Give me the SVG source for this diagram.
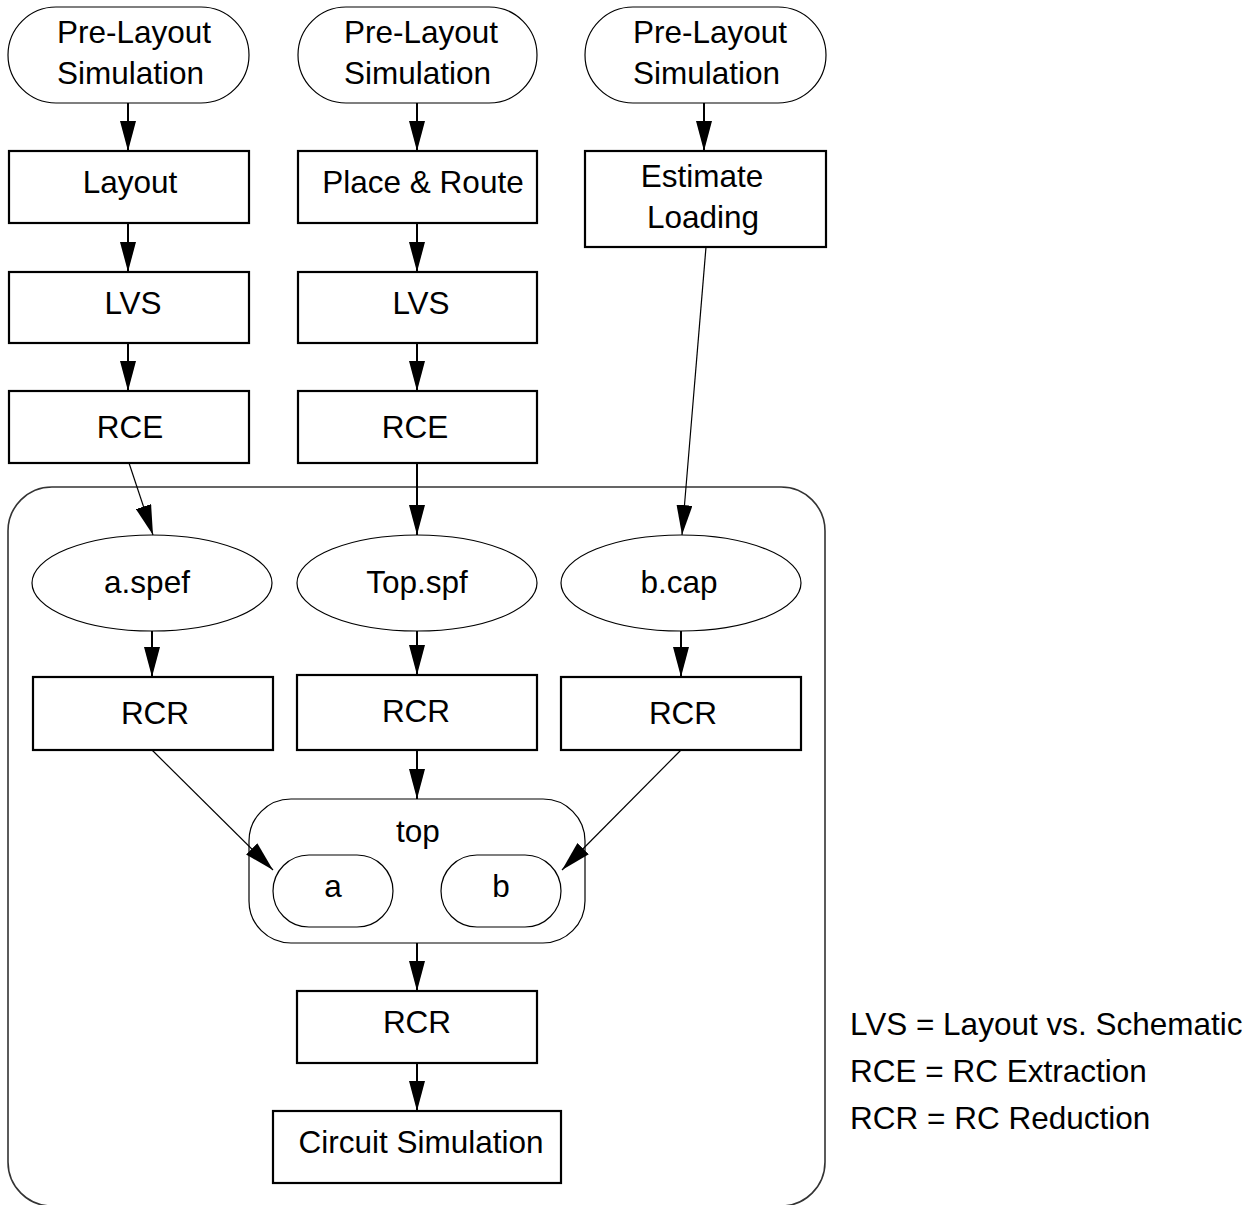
<svg xmlns="http://www.w3.org/2000/svg" width="1254" height="1205" viewBox="0 0 1254 1205">
  <style>
    .t { font-family: "Liberation Sans", Arial, sans-serif; font-size: 31.5px; fill: #000; }
    .m { text-anchor: middle; }
    .box { fill: #fff; stroke: #000; stroke-width: 2.2; }
    .soft { fill: #fff; stroke: #000; stroke-width: 1.2; }
    .frame { fill: none; stroke: #333; stroke-width: 1.6; }
    .e { fill: none; stroke: #000; stroke-width: 2; marker-end: url(#ah); }
    .ethin { fill: none; stroke: #000; stroke-width: 1.2; marker-end: url(#ah); }
  </style>
  <defs>
    <marker id="ah" viewBox="0 0 30 16" refX="30" refY="8" markerWidth="30" markerHeight="16" markerUnits="userSpaceOnUse" orient="auto">
      <path d="M0,0 L30,8 L0,16 Z" fill="#000"/>
    </marker>
  </defs>
  <rect width="1254" height="1205" fill="#fff"/>

  <!-- enclosing extraction/reduction frame -->
  <rect id="frame" class="frame" x="8" y="487" width="817" height="719" rx="44" ry="44"/>

  <!-- column 1 -->
  <g id="pre1">
    <rect class="soft" x="8" y="7" width="241" height="96" rx="48" ry="48"/>
    <text class="t" x="57" y="43">Pre-Layout</text>
    <text class="t" x="57" y="84">Simulation</text>
  </g>
  <g id="layout">
    <rect class="box" x="9" y="151" width="240" height="72"/>
    <text class="t m" x="130" y="193">Layout</text>
  </g>
  <g id="lvs1">
    <rect class="box" x="9" y="272" width="240" height="71"/>
    <text class="t m" x="133" y="314">LVS</text>
  </g>
  <g id="rce1">
    <rect class="box" x="9" y="391" width="240" height="72"/>
    <text class="t m" x="130" y="438">RCE</text>
  </g>

  <!-- column 2 -->
  <g id="pre2">
    <rect class="soft" x="298" y="7" width="239" height="96" rx="48" ry="48"/>
    <text class="t" x="344" y="43">Pre-Layout</text>
    <text class="t" x="344" y="84">Simulation</text>
  </g>
  <g id="pnr">
    <rect class="box" x="298" y="151" width="239" height="72"/>
    <text class="t m" x="423" y="193">Place &amp; Route</text>
  </g>
  <g id="lvs2">
    <rect class="box" x="298" y="272" width="239" height="71"/>
    <text class="t m" x="421" y="314">LVS</text>
  </g>
  <g id="rce2">
    <rect class="box" x="298" y="391" width="239" height="72"/>
    <text class="t m" x="415" y="438">RCE</text>
  </g>

  <!-- column 3 -->
  <g id="pre3">
    <rect class="soft" x="585" y="7" width="241" height="96" rx="48" ry="48"/>
    <text class="t" x="633" y="43">Pre-Layout</text>
    <text class="t" x="633" y="84">Simulation</text>
  </g>
  <g id="estimate">
    <rect class="box" x="585" y="151" width="241" height="96"/>
    <text class="t m" x="702" y="187">Estimate</text>
    <text class="t m" x="703" y="228">Loading</text>
  </g>

  <!-- parasitic files -->
  <g id="aspef">
    <ellipse class="soft" cx="152" cy="583" rx="120" ry="48"/>
    <text class="t m" x="147" y="593">a.spef</text>
  </g>
  <g id="topspf">
    <ellipse class="soft" cx="417" cy="583" rx="120" ry="48"/>
    <text class="t m" x="417" y="593">Top.spf</text>
  </g>
  <g id="bcap">
    <ellipse class="soft" cx="681" cy="583" rx="120" ry="48"/>
    <text class="t m" x="679" y="593">b.cap</text>
  </g>

  <!-- reduction -->
  <g id="rcr1">
    <rect class="box" x="33" y="677" width="240" height="73"/>
    <text class="t m" x="155" y="724">RCR</text>
  </g>
  <g id="rcr2">
    <rect class="box" x="297" y="675" width="240" height="75"/>
    <text class="t m" x="416" y="722">RCR</text>
  </g>
  <g id="rcr3">
    <rect class="box" x="561" y="677" width="240" height="73"/>
    <text class="t m" x="683" y="724">RCR</text>
  </g>

  <!-- hierarchy -->
  <g id="top">
    <rect class="soft" x="249" y="799" width="336" height="144" rx="42" ry="42"/>
    <text class="t m" x="418" y="842">top</text>
  </g>
  <g id="a">
    <rect class="soft" x="273" y="855" width="120" height="72" rx="36" ry="36"/>
    <text class="t m" x="333" y="897">a</text>
  </g>
  <g id="b">
    <rect class="soft" x="441" y="855" width="120" height="72" rx="36" ry="36"/>
    <text class="t m" x="501" y="897">b</text>
  </g>

  <g id="rcr4">
    <rect class="box" x="297" y="991" width="240" height="72"/>
    <text class="t m" x="417" y="1033">RCR</text>
  </g>
  <g id="circuit">
    <rect class="box" x="273" y="1111" width="288" height="72"/>
    <text class="t m" x="421" y="1153">Circuit Simulation</text>
  </g>

  <!-- legend -->
  <g id="legend">
    <text class="t" x="850" y="1035">LVS = Layout vs. Schematic</text>
    <text class="t" x="850" y="1082">RCE = RC Extraction</text>
    <text class="t" x="850" y="1129">RCR = RC Reduction</text>
  </g>

  <!-- connectors -->
  <g id="edges">
    <line class="e" x1="128" y1="103" x2="128" y2="151"/>
    <line class="e" x1="128" y1="223" x2="128" y2="272"/>
    <line class="e" x1="128" y1="343" x2="128" y2="391"/>
    <line class="e" x1="417" y1="103" x2="417" y2="151"/>
    <line class="e" x1="417" y1="223" x2="417" y2="272"/>
    <line class="e" x1="417" y1="343" x2="417" y2="391"/>
    <line class="e" x1="704" y1="103" x2="704" y2="151"/>
    <line class="ethin" x1="129" y1="463" x2="153" y2="535"/>
    <line class="e" x1="417" y1="463" x2="417" y2="535"/>
    <line class="ethin" x1="706" y1="247" x2="682" y2="535"/>
    <line class="e" x1="152" y1="631" x2="152" y2="677"/>
    <line class="e" x1="417" y1="631" x2="417" y2="675"/>
    <line class="e" x1="681" y1="631" x2="681" y2="677"/>
    <line class="ethin" x1="152" y1="750" x2="273" y2="870"/>
    <line class="e" x1="417" y1="750" x2="417" y2="799"/>
    <line class="ethin" x1="681" y1="750" x2="562" y2="870"/>
    <line class="e" x1="417" y1="943" x2="417" y2="991"/>
    <line class="e" x1="417" y1="1063" x2="417" y2="1111"/>
  </g>
</svg>
